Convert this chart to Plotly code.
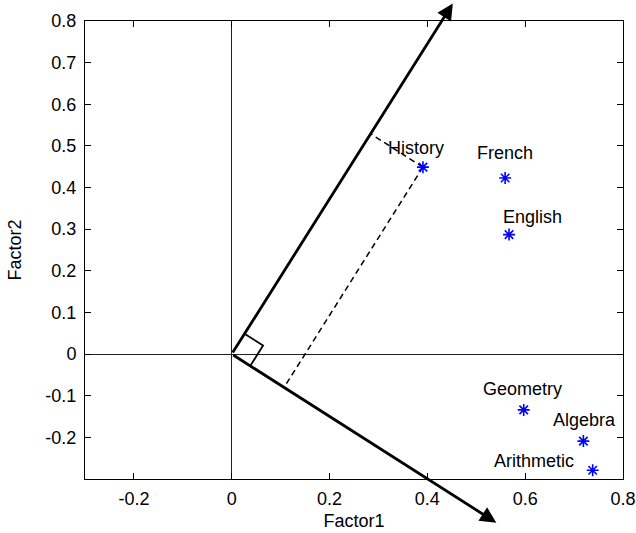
import numpy as np
import plotly.graph_objects as go

# Factor loadings for six exam subjects
subjects = ["History", "French", "English", "Geometry", "Algebra", "Arithmetic"]
factor1 = [0.391, 0.559, 0.567, 0.597, 0.719, 0.738]
factor2 = [0.449, 0.423, 0.287, -0.134, -0.209, -0.279]

# Label offsets from each point (left edge of text, vertical middle)
label_dx = [-0.075, -0.061, -0.017, -0.087, -0.066, -0.206]
label_dy = [0.045, 0.061, 0.042, 0.050, 0.051, 0.022]

# Rotated factor axes (arrow end points)
rot_axis_a = (0.452, 0.842)
rot_axis_b = (0.541, -0.405)

x_ticks = [-0.2, 0, 0.2, 0.4, 0.6, 0.8]
y_ticks = [-0.2, -0.1, 0, 0.1, 0.2, 0.3, 0.4, 0.5, 0.6, 0.7, 0.8]

FONT = "Liberation Sans, Arial, sans-serif"
FSIZE = 18

fig = go.Figure()

# Oblique projection of the History point onto the two rotated axes
a_vec = np.array(rot_axis_a)
b_vec = np.array(rot_axis_b)
p = np.array([factor1[0], factor2[0]])
coef = np.linalg.solve(np.column_stack([a_vec, b_vec]), p)
proj_a = coef[0] * a_vec
proj_b = coef[1] * b_vec
for end in (proj_a, proj_b):
    fig.add_trace(go.Scatter(
        x=[p[0], end[0]], y=[p[1], end[1]], mode="lines",
        line=dict(color="black", width=1.5, dash="6px,4px"),
        hoverinfo="skip", showlegend=False, cliponaxis=False))

# Right-angle marker at the origin
ua = a_vec * 0.058
ub = b_vec * 0.07
corner = ua + ub
fig.add_trace(go.Scatter(
    x=[ua[0], corner[0], ub[0]], y=[ua[1], corner[1], ub[1]], mode="lines",
    line=dict(color="black", width=1.8), hoverinfo="skip", showlegend=False))

# Loading points
fig.add_trace(go.Scatter(
    x=factor1, y=factor2, mode="markers",
    marker=dict(symbol="asterisk-open", size=10, color="#0000ff",
                line=dict(color="#0000ff", width=1.6)),
    showlegend=False, cliponaxis=False))

# Subject labels
for name, fx, fy, dx, dy in zip(subjects, factor1, factor2, label_dx, label_dy):
    fig.add_annotation(x=fx + dx, y=fy + dy, text=name, showarrow=False,
                       xanchor="left", yanchor="middle",
                       font=dict(family=FONT, size=FSIZE, color="black"))

# Rotated axis arrows
for tip in (rot_axis_a, rot_axis_b):
    fig.add_annotation(x=tip[0], y=tip[1], ax=0, ay=0, xref="x", yref="y",
                       axref="x", ayref="y", text="", showarrow=True,
                       arrowhead=2, arrowsize=1.15, arrowwidth=2.8,
                       arrowcolor="black", standoff=0)

axis_common = dict(
    showline=True, linecolor="black", linewidth=1, mirror="ticks",
    ticks="inside", ticklen=6, tickcolor="black", tickwidth=1,
    showgrid=False, zeroline=True, zerolinecolor="#202020", zerolinewidth=1.2,
    tickfont=dict(family=FONT, size=FSIZE, color="black"),
    automargin=False,
)

fig.update_xaxes(range=[-0.3, 0.8], tickvals=x_ticks,
                 ticktext=[f"{v:g}" for v in x_ticks],
                 ticklabelstandoff=3,
                 title=dict(text="Factor1", standoff=6,
                            font=dict(family=FONT, size=FSIZE, color="black")),
                 **axis_common)
fig.update_yaxes(range=[-0.3, 0.8], tickvals=y_ticks,
                 ticktext=[f"{v:g}" for v in y_ticks],
                 ticklabelstandoff=4,
                 title=dict(text="Factor2", standoff=19,
                            font=dict(family=FONT, size=FSIZE, color="black")),
                 **axis_common)

fig.update_layout(
    width=636, height=533,
    margin=dict(l=85, r=13, t=21, b=54),
    plot_bgcolor="white", paper_bgcolor="white",
    showlegend=False,
)

fig.write_html("out.html")
